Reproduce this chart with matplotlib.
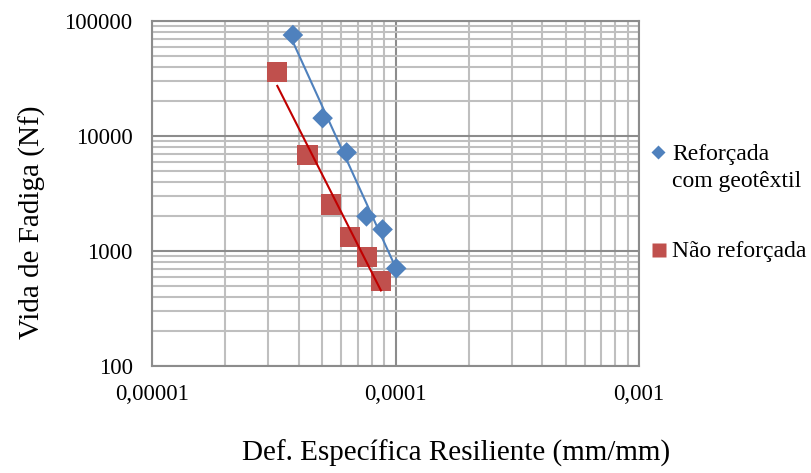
import numpy as np
import matplotlib.pyplot as plt
from matplotlib.lines import Line2D
from matplotlib.ticker import LogLocator, FixedFormatter, FixedLocator

plt.rcParams['font.family'] = ['Liberation Serif', 'DejaVu Serif']

# Deformação específica resiliente (mm/mm) e vida de fadiga (Nf)
def_reforcada = [3.79e-5, 5.02e-5, 6.30e-5, 7.60e-5, 8.85e-5, 1.007e-4]
nf_reforcada = [75500, 14300, 7200, 2000, 1540, 706]

def_nao_reforcada = [3.27e-5, 4.35e-5, 5.45e-5, 6.52e-5, 7.62e-5, 8.71e-5]
nf_nao_reforcada = [36100, 6790, 2540, 1315, 893, 545]

x_ticks = [1e-5, 1e-4, 1e-3]
x_tick_labels = ["0,00001", "0,0001", "0,001"]
y_ticks = [100, 1000, 10000, 100000]
y_tick_labels = ["100", "1000", "10000", "100000"]

azul = "#4F81BD"
vermelho = "#C0504D"


def ajuste_potencia(x, y):
    # linha de tendência do tipo potência (regressão em log-log)
    lx, ly = np.log10(x), np.log10(y)
    b, a = np.polyfit(lx, ly, 1)
    xs = np.array([min(x), max(x)])
    return xs, 10 ** (a + b * np.log10(xs))


W, H = 811, 473
fig = plt.figure(figsize=(W / 100, H / 100), dpi=100)
ax = fig.add_axes([152 / W, 1 - 366 / H, (639 - 152) / W, (366 - 21) / H])

ax.set_xscale("log")
ax.set_yscale("log")
ax.set_xlim(1e-5, 1e-3)
ax.set_ylim(100, 100000)

xs, ys = ajuste_potencia(def_reforcada, nf_reforcada)
ax.plot(xs, ys, color=azul, lw=1.5, zorder=3)
xs, ys = ajuste_potencia(def_nao_reforcada, nf_nao_reforcada)
ax.plot(xs, ys, color="#C00000", lw=1.5, zorder=3)

ax.scatter(def_reforcada, nf_reforcada, marker="D", s=110, color=azul,
           edgecolors="none", zorder=4)
ax.scatter(def_nao_reforcada, nf_nao_reforcada, marker="s", s=210, color=vermelho,
           edgecolors="none", zorder=2)

ax.xaxis.set_major_locator(FixedLocator(x_ticks))
ax.xaxis.set_major_formatter(FixedFormatter(x_tick_labels))
ax.yaxis.set_major_locator(FixedLocator(y_ticks))
ax.yaxis.set_major_formatter(FixedFormatter(y_tick_labels))
ax.xaxis.set_minor_locator(LogLocator(base=10, subs=np.arange(2, 10)))
ax.yaxis.set_minor_locator(LogLocator(base=10, subs=np.arange(2, 10)))
ax.xaxis.set_minor_formatter(plt.NullFormatter())
ax.yaxis.set_minor_formatter(plt.NullFormatter())

ax.grid(True, which="minor", color="#BFBFBF", lw=1.5)
ax.grid(True, which="major", color="#8C8C8C", lw=1.5)
ax.set_axisbelow(True)
ax.tick_params(which="both", length=0, labelsize=16.5, colors="black")
ax.tick_params(axis="x", pad=13)
ax.tick_params(axis="y", pad=14)
for s in ax.spines.values():
    s.set_color("#8C8C8C")
    s.set_linewidth(1.5)

ax.set_xlabel("Def. Específica Resiliente (mm/mm)", fontsize=21)
ax.set_ylabel("Vida de Fadiga (Nf)", fontsize=21)
ax.xaxis.set_label_coords((456 - 152) / 487, (366 - 440) / 345)
ax.yaxis.set_label_coords((46 - 152) / 487, (366 - 222) / 345)

# legenda à direita do gráfico
fig.add_artist(Line2D([658 / W], [1 - 152 / H], marker="D", ms=7.2, color=azul,
                      mec="none", transform=fig.transFigure))
fig.add_artist(Line2D([659 / W], [1 - 250 / H], marker="s", ms=10.5, color=vermelho,
                      mec="none", transform=fig.transFigure))
fs_leg = 17
fig.text(672 / W, 1 - 160 / H, "Reforçada", fontsize=fs_leg, va="baseline")
fig.text(672 / W, 1 - 187 / H, "com geotêxtil", fontsize=fs_leg, va="baseline")
fig.text(672 / W, 1 - 257 / H, "Não reforçada", fontsize=fs_leg, va="baseline")

fig.savefig("out.png", dpi=100)
